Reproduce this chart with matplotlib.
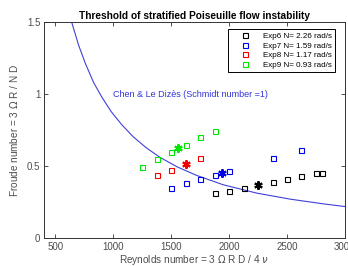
import matplotlib
matplotlib.use("Agg")
import matplotlib.pyplot as plt

plt.rcParams['font.family'] = ['Liberation Sans', 'DejaVu Sans']

# Experimental data (Reynolds, Froude)
exp6_re = [1875, 2000, 2125, 2375, 2500, 2625, 2750, 2800]
exp6_fr = [0.31, 0.325, 0.345, 0.39, 0.41, 0.43, 0.45, 0.455]
exp6_star = (2250, 0.37)

exp7_re = [1500, 1625, 1750, 1875, 2000, 2375, 2625]
exp7_fr = [0.345, 0.38, 0.41, 0.435, 0.465, 0.555, 0.61]
exp7_star = (1940, 0.455)

exp8_re = [1375, 1500, 1750]
exp8_fr = [0.44, 0.475, 0.555]
exp8_star = (1625, 0.515)

exp9_re = [1250, 1375, 1500, 1625, 1750, 1875]
exp9_fr = [0.495, 0.55, 0.595, 0.645, 0.70, 0.745]
exp9_star = (1560, 0.625)

labels = ["Exp6 N= 2.26 rad/s", "Exp7 N= 1.59 rad/s",
          "Exp8 N= 1.17 rad/s", "Exp9 N= 0.93 rad/s"]

# Theory curve (Chen & Le Dizes)
theory_re = [640, 700, 760, 830, 900, 980, 1070, 1170, 1280, 1400, 1550, 1720,
             1950, 2240, 2530, 2820, 3000]
theory_fr = [1.50, 1.34, 1.21, 1.08, 0.98, 0.88, 0.79, 0.705, 0.63, 0.562, 0.495,
             0.435, 0.37, 0.312, 0.27, 0.237, 0.219]

xticks = [500, 1000, 1500, 2000, 2500, 3000]
yticks = [0, 0.5, 1, 1.5]
ytick_labels = ["0", "0.5", "1", "1.5"]

fig = plt.figure(figsize=(3.48, 2.66), dpi=100)
ax = fig.add_axes([0.126, 0.105, 0.865, 0.812])

ax.plot(theory_re, theory_fr, color=(0.25, 0.25, 0.85), lw=0.8)

colors = ['black', (0.0, 0.0, 0.9), (0.95, 0.0, 0.0), (0.0, 0.9, 0.0)]
series = [(exp6_re, exp6_fr, exp6_star), (exp7_re, exp7_fr, exp7_star),
          (exp8_re, exp8_fr, exp8_star), (exp9_re, exp9_fr, exp9_star)]
for (re, fr, st), c, lab in zip(series, colors, labels):
    ax.plot(re, fr, ls='none', marker='s', ms=3.6, mfc='none', mec=c, mew=0.8, label=lab)
    ax.plot([st[0]], [st[1]], ls='none', marker=(6, 2, 0), ms=6, mec=c, mew=1.5)
    ax.plot([st[0]], [st[1]], ls='none', marker='o', ms=2.3, mfc=c, mec=c)

ax.text(1000, 1.0, "Chen & Le Dizès (Schmidt number =1)", color=(0.2, 0.2, 0.85),
        fontsize=6.5, ha='left', va='center')

ax.set_xlim(400, 3000)
ax.set_ylim(0, 1.5)
ax.set_xticks(xticks)
ax.set_yticks(yticks)
ax.set_yticklabels(ytick_labels)
ax.tick_params(direction='in', length=3, width=0.6, top=True, right=True,
               labelsize=7, labelcolor=(0.3, 0.3, 0.3), color=(0.2, 0.2, 0.2), pad=2.5)
for s in ax.spines.values():
    s.set_linewidth(0.7)
    s.set_color((0.2, 0.2, 0.2))

ax.set_title("Threshold of stratified Poiseuille flow instability",
             fontsize=7.3, fontweight='bold', pad=2)
ax.set_xlabel("Reynolds number = 3 $\\Omega$ R D / 4 $\\nu$", fontsize=7.2,
              color=(0.3, 0.3, 0.3), labelpad=1)
ax.set_ylabel("Froude number = 3 $\\Omega$ R / N D", fontsize=7.2,
              color=(0.3, 0.3, 0.3), labelpad=5)

leg = ax.legend(loc='upper right', bbox_to_anchor=(0.967, 0.968), fontsize=5.8,
                frameon=True, fancybox=False, edgecolor='black', framealpha=1,
                borderpad=0.4, labelspacing=0.25, handletextpad=0.4,
                handlelength=3.5, borderaxespad=0)
leg.get_frame().set_linewidth(0.7)

fig.savefig("out.png", dpi=100)
